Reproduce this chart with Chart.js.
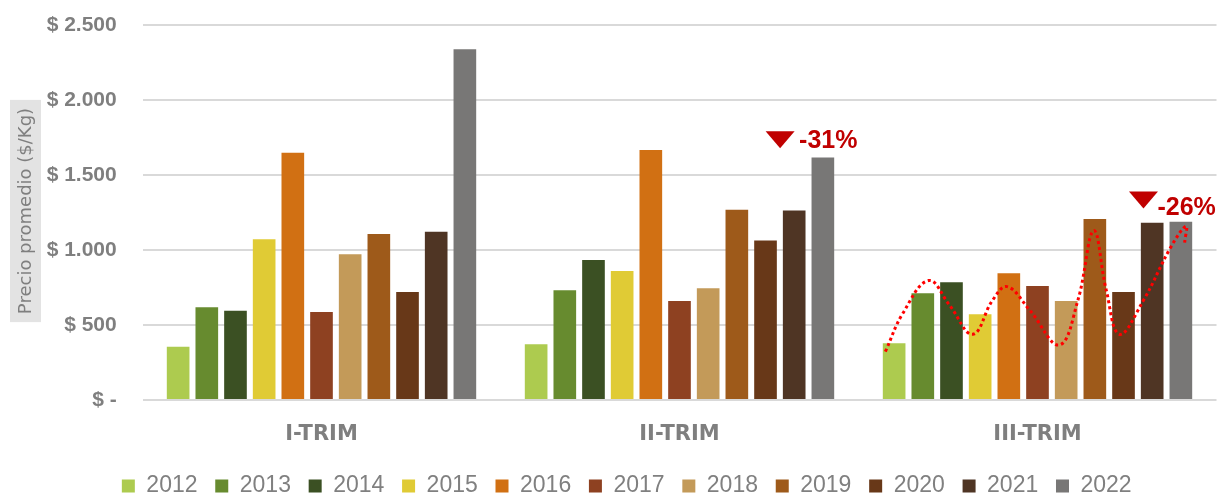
<!DOCTYPE html>
<html>
<head>
<meta charset="utf-8">
<script src="https://cdn.jsdelivr.net/npm/chart.js@4"></script>
<style>
  html, body { margin: 0; padding: 0; background: #fff; }
  #wrap { width: 1218px; height: 495px; }
</style>
</head>
<body>
<div id="wrap"><canvas id="graficoPrecios"></canvas></div>
<script>
// > Precio promedio ($/Kg) por trimestre, un arreglo por año
var trimestres = ["I-TRIM", "II-TRIM", "III-TRIM"];
var anios = ["2012", "2013", "2014", "2015", "2016", "2017", "2018", "2019", "2020", "2021", "2022"];
var colores = ["#ADCB4F", "#678B2F", "#3B5023", "#E0CB35", "#D17013", "#8E4121",
               "#C39A59", "#9E5A1A", "#683818", "#4F3524", "#787776"];

var p2012 = [355, 371, 378];
var p2013 = [618, 731, 711];
var p2014 = [595, 933, 785];
var p2015 = [1071, 860, 571];
var p2016 = [1649, 1667, 845];
var p2017 = [587, 660, 760];
var p2018 = [971, 745, 660];
var p2019 = [1107, 1269, 1207];
var p2020 = [720, 1064, 720];
var p2021 = [1122, 1264, 1182];
var p2022 = [2338, 1616, 1189];
var precios = [p2012, p2013, p2014, p2015, p2016, p2017, p2018, p2019, p2020, p2021, p2022];

// * eje Y
var ticksY = [0, 500, 1000, 1500, 2000, 2500];
var tituloY = "Precio promedio ($/Kg)";

// * línea punteada del III-TRIM (x en unidades de trimestre: 0, 1, 2)
var curvaX = [1.575, 1.624, 1.696, 1.754, 1.819, 1.875, 1.915, 1.978, 2.061, 2.113, 2.157, 2.192, 2.229, 2.294, 2.373, 2.415, 2.411];
var curvaY = [322, 578, 796, 633, 438, 667, 756, 600, 367, 667, 1129, 733, 438, 656, 1022, 1160, 1049];

// ! variaciones marcadas
var variaciones = ["-31%", "-26%"];
var flechaX = [1.281, 2.296];
var flechaY = [1735, 1333];
var textoX = [1.334, 2.335];
var textoY = [1733, 1289];

function formatoPesos(v) {
    if (v == 0) return "$ -";
    return "$ " + v.toString().replace(/\B(?=(\d{3})+(?!\d))/g, ".");
}

// : el eje X es lineal (0, 1, 2) para que la curva pueda ir entre las barras
var datasets = [];
for (var i = 0; i < anios.length; i++) {
    datasets.push({
        label: anios[i],
        data: precios[i].map(function (v, k) { return { x: k, y: v }; }),
        backgroundColor: colores[i],
        borderWidth: 0,
        categoryPercentage: 0.881,
        barPercentage: 0.79
    });
}

var puntosCurva = [];
for (var i = 0; i < curvaX.length; i++) {
    puntosCurva.push({ x: curvaX[i], y: curvaY[i] });
}
datasets.push({
    type: "line",
    label: "tendencia",
    data: puntosCurva,
    borderColor: "#FF0000",
    borderWidth: 3,
    borderDash: [3, 3],
    pointRadius: 0,
    tension: 0.4,
    fill: false,
    order: -1
});

// fondo gris y texto del título del eje Y
var tituloEje = {
    id: "tituloEje",
    beforeDraw(chart) {
        var ctx = chart.ctx;
        var cy = (chart.chartArea.top + chart.chartArea.bottom) / 2 - 1.5;
        ctx.save();
        ctx.font = '18px "DejaVu Sans"';
        var w = ctx.measureText(tituloY).width;
        ctx.fillStyle = "#E3E3E3";
        ctx.fillRect(10, cy - w / 2 - 8, 31, w + 16);
        ctx.translate(26, cy);
        ctx.rotate(-Math.PI / 2);
        ctx.fillStyle = "#7F7F7F";
        ctx.textAlign = "center";
        ctx.textBaseline = "middle";
        ctx.fillText(tituloY, 0, 0);
        ctx.restore();
    }
};

// triángulos rojos con el porcentaje
var marcas = {
    id: "marcas",
    afterDatasetsDraw(chart) {
        var ctx = chart.ctx;
        var xs = chart.scales.x, ys = chart.scales.y;
        ctx.save();
        for (var i = 0; i < variaciones.length; i++) {
            var cx = xs.getPixelForValue(flechaX[i]);
            var cy = ys.getPixelForValue(flechaY[i]);
            ctx.fillStyle = "#C00000";
            ctx.beginPath();
            ctx.moveTo(cx - 14.5, cy - 8.5);
            ctx.lineTo(cx + 14.5, cy - 8.5);
            ctx.lineTo(cx, cy + 8.5);
            ctx.closePath();
            ctx.fill();
            ctx.font = 'bold 25px "Liberation Sans"';
            ctx.textAlign = "left";
            ctx.textBaseline = "middle";
            ctx.fillText(variaciones[i], xs.getPixelForValue(textoX[i]), ys.getPixelForValue(textoY[i]) + 1);
        }
        ctx.restore();
    }
};

var ctx = document.getElementById("graficoPrecios").getContext("2d");
var grafico = new Chart(ctx, {
    type: "bar",
    data: { datasets: datasets },
    options: {
        responsive: true,
        maintainAspectRatio: false,
        animation: false,
        layout: { padding: { left: 37, right: 1.5, top: 25, bottom: -12.5 } },
        plugins: {
            tooltip: { enabled: false },
            legend: {
                position: "bottom",
                labels: {
                    boxWidth: 13,
                    boxHeight: 13,
                    padding: 17.75,
                    color: "#808080",
                    font: { family: "Liberation Sans", size: 23 },
                    filter: function (item) { return item.datasetIndex < anios.length; }
                }
            }
        },
        scales: {
            x: {
                type: "linear",
                min: -0.5,
                max: 2.5,
                offset: false,
                afterBuildTicks: function (scale) {
                    scale.ticks = trimestres.map(function (t, k) { return { value: k }; });
                },
                grid: { display: false },
                border: { display: false },
                ticks: {
                    color: "#7F7F7F",
                    padding: 13.5,
                    font: { family: "DejaVu Sans", size: 21, weight: "bold" },
                    callback: function (v) { return trimestres[v]; }
                },
                afterFit: function (scale) { scale.height = 56.75; }
            },
            y: {
                min: 0,
                max: 2500,
                afterBuildTicks: function (scale) {
                    scale.ticks = ticksY.map(function (v) { return { value: v }; });
                },
                // marcas de tick invisibles para separar las etiquetas de la grilla
                grid: { color: "#D9D9D9", lineWidth: 2, drawTicks: true, tickLength: 25.8, tickColor: "rgba(0,0,0,0)" },
                border: { display: false },
                ticks: {
                    color: "#7F7F7F",
                    padding: 0,
                    font: { family: "Liberation Sans", size: 21, weight: "bold" },
                    callback: function (v) { return formatoPesos(v); }
                },
                afterFit: function (scale) { scale.width = 105.5; }
            }
        }
    },
    plugins: [tituloEje, marcas]
});
</script>
</body>
</html>
